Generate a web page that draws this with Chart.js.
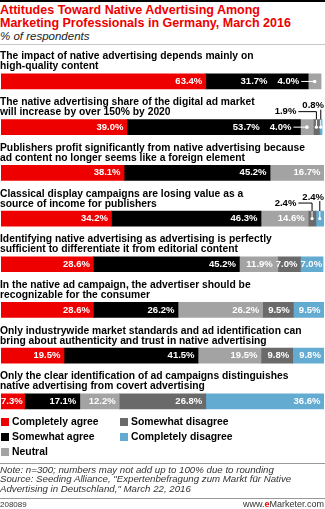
<!DOCTYPE html>
<html>
<head>
<meta charset="utf-8">
<script src="https://cdn.jsdelivr.net/npm/chart.js@4"></script>
<style>
  body { margin: 0; width: 325px; height: 509px; position: relative; background: #fff; overflow: hidden; font-family: "Liberation Sans", Arial, sans-serif; }
  .abs { position: absolute; }
  #topRule { left: 0; top: 0; width: 325px; height: 2px; background: #000; }
  #title { left: 0; top: 4px; color: #ee0000; font-weight: bold; font-size: 12.5px; line-height: 12.5px; }
  #subtitle { left: 0; top: 30px; font-style: italic; font-size: 11.5px; color: #222; }
  #subRule { left: 0; top: 44px; width: 325px; height: 1px; background: #c8c8c8; }
  #chartWrap { left: 0; top: 46px; width: 325px; height: 380px; }
  .legendItem { position: absolute; font-weight: bold; font-size: 10.4px; color: #000; white-space: nowrap; }
  .legendItem span.sw { position: absolute; left: 0; top: 2px; width: 8px; height: 8px; }
  .legendItem span.tx { position: absolute; left: 11px; top: 0; line-height: 12px; }
  #noteRule { left: 0; top: 463px; width: 325px; height: 1px; background: #999; }
  #notes { left: 0; top: 465px; font-style: italic; font-size: 9.7px; line-height: 9.4px; color: #333; }
  #footRule { left: 0; top: 498px; width: 325px; height: 1px; background: #999; }
  #chartId { left: 0; top: 500px; font-size: 8px; color: #333; }
  #site { right: 1px; top: 499px; font-size: 9px; color: #333; }
  #site b { color: #ee0000; }
</style>
</head>
<body>
<div id="topRule" class="abs"></div>
<div id="title" class="abs">Attitudes Toward Native Advertising Among<br>Marketing Professionals in Germany, March 2016</div>
<div id="subtitle" class="abs">% of respondents</div>
<div id="subRule" class="abs"></div>
<div id="chartWrap" class="abs"><canvas id="attitudesChart" width="325" height="380"></canvas></div>
<div id="legend"></div>
<div id="noteRule" class="abs"></div>
<div id="notes" class="abs">Note: n=300; numbers may not add up to 100% due to rounding<br>Source: Seeding Alliance, "Expertenbefragung zum Markt für Native<br>Advertising in Deutschland," March 22, 2016</div>
<div id="footRule" class="abs"></div>
<div id="chartId" class="abs">208089</div>
<div id="site" class="abs">www.<b>e</b>Marketer.com</div>
<script>
const categories = [
  ['The impact of native advertising depends mainly on', 'high-quality content'],
  ['The native advertising share of the digital ad market', 'will increase by over 150% by 2020'],
  ['Publishers profit significantly from native advertising because', 'ad content no longer seems like a foreign element'],
  ['Classical display campaigns are losing value as a', 'source of income for publishers'],
  ['Identifying native advertising as advertising is perfectly', 'sufficient to differentiate it from editorial content'],
  ['In the native ad campaign, the advertiser should be', 'recognizable for the consumer'],
  ['Only industrywide market standards and ad identification can', 'bring about authenticity and trust in native advertising'],
  ['Only the clear identification of ad campaigns distinguishes', 'native advertising from covert advertising']
];

const completelyAgree    = [63.4, 39.0, 38.1, 34.2, 28.6, 28.6, 19.5, 7.3];
const somewhatAgree      = [31.7, 53.7, 45.2, 46.3, 45.2, 26.2, 41.5, 17.1];
const neutral            = [4.0, 4.0, 16.7, 14.6, 11.9, 26.2, 19.5, 12.2];
const somewhatDisagree   = [null, 1.9, null, 2.4, 7.0, 9.5, 9.8, 26.8];
const completelyDisagree = [null, 0.8, null, 2.4, 7.0, 9.5, 9.8, 36.6];

const seriesNames  = ['Completely agree', 'Somewhat agree', 'Neutral', 'Somewhat disagree', 'Completely disagree'];
const seriesColors = ['#ee0000', '#000000', '#a3a3a3', '#6a6a6a', '#63abd1'];
const seriesData   = [completelyAgree, somewhatAgree, neutral, somewhatDisagree, completelyDisagree];

const valueFont = 'bold 9.5px "Liberation Sans", Arial, sans-serif';
const labelFont = 'bold 10.3px "Liberation Sans", Arial, sans-serif';

// question text above each bar
const questionLabels = {
  id: 'questionLabels',
  afterDatasetsDraw(chart) {
    const ctx = chart.ctx;
    const yScale = chart.scales.y;
    const half = chart.getDatasetMeta(0).data[0].height / 2;
    ctx.save();
    ctx.font = labelFont;
    ctx.fillStyle = '#000';
    ctx.textAlign = 'left';
    ctx.textBaseline = 'alphabetic';
    categories.forEach((lines, i) => {
      const top = yScale.getPixelForValue(i) - half;
      lines.forEach((line, k) => {
        ctx.fillText(line, 0, top - 4.5 - (lines.length - 1 - k) * 10);
      });
    });
    ctx.restore();
  }
};

// percentage labels on the segments, with leaders for the narrow ones
const segmentLabels = {
  id: 'segmentLabels',
  afterDatasetsDraw(chart) {
    const ctx = chart.ctx;
    ctx.save();
    ctx.font = valueFont;
    ctx.textBaseline = 'middle';

    categories.forEach((_, i) => {
      const segs = [];
      chart.data.datasets.forEach((ds, d) => {
        const v = ds.data[i];
        if (v === null || v === undefined) return;
        const el = chart.getDatasetMeta(d).data[i];
        segs.push({ v, left: el.base, right: el.x, y: el.y, h: el.height });
      });

      let cursor = chart.chartArea.right + 10;
      let outerRight = chart.width - 1;
      let outerCount = 0;

      for (let s = segs.length - 1; s >= 0; s--) {
        const seg = segs[s];
        const text = seg.v.toFixed(1) + '%';
        const tw = ctx.measureText(text).width;
        const w = seg.right - seg.left;
        const mid = (seg.left + seg.right) / 2;
        const top = seg.y - seg.h / 2;

        if (w < 9) {
          // label above the bar, elbow leader down into the segment
          ctx.fillStyle = '#000';
          ctx.strokeStyle = '#000';
          ctx.lineWidth = 1;
          ctx.textAlign = 'right';
          let baseY;
          if (outerCount === 0) {
            baseY = top - 14;
            ctx.fillText(text, outerRight, baseY);
            ctx.beginPath();
            ctx.moveTo(mid, baseY + 4);
            ctx.lineTo(mid, top);
            ctx.stroke();
          } else {
            baseY = top - 8;
            ctx.fillText(text, outerRight, baseY);
            ctx.beginPath();
            ctx.moveTo(outerRight + 2, baseY);
            ctx.lineTo(mid, baseY);
            ctx.lineTo(mid, top);
            ctx.stroke();
          }
          ctx.strokeStyle = '#fff';
          ctx.beginPath();
          ctx.moveTo(mid, top);
          ctx.lineTo(mid, seg.y);
          ctx.stroke();
          ctx.fillStyle = '#fff';
          ctx.beginPath();
          ctx.arc(mid, seg.y, 1.6, 0, Math.PI * 2);
          ctx.fill();
          outerRight = outerRight - tw - 6;
          outerCount++;
        } else if (w < tw - 2) {
          // label sits in the previous segment with a short leader
          const right = Math.min(seg.left - 9, cursor);
          ctx.fillStyle = '#fff';
          ctx.textAlign = 'right';
          ctx.fillText(text, right, seg.y);
          ctx.strokeStyle = '#fff';
          ctx.lineWidth = 1;
          ctx.beginPath();
          ctx.moveTo(right + 2, seg.y);
          ctx.lineTo(mid, seg.y);
          ctx.stroke();
          ctx.beginPath();
          ctx.arc(mid, seg.y, 1.8, 0, Math.PI * 2);
          ctx.fill();
          cursor = right - tw - 10;
        } else {
          const pad = Math.max(0, Math.min(3.5, w - tw));
          const right = Math.min(seg.right - pad, cursor);
          ctx.fillStyle = '#fff';
          ctx.textAlign = 'right';
          ctx.fillText(text, right, seg.y);
          cursor = right - tw - 3;
        }
      }
    });
    ctx.restore();
  }
};

const datasets = seriesNames.map((name, d) => ({
  label: name,
  data: seriesData[d],
  backgroundColor: seriesColors[d],
  borderWidth: 0,
  barThickness: 15
}));

new Chart(document.getElementById('attitudesChart'), {
  type: 'bar',
  data: { labels: categories, datasets: datasets },
  options: {
    indexAxis: 'y',
    responsive: false,
    devicePixelRatio: 1,
    animation: false,
    layout: { padding: { left: 1, right: 1, top: 12.6, bottom: 1.8 } },
    scales: {
      x: { stacked: true, min: 0, max: 100, display: false },
      y: { stacked: true, display: false }
    },
    plugins: {
      legend: { display: false },
      tooltip: { enabled: false }
    }
  },
  plugins: [questionLabels, segmentLabels]
});

// legend in two columns under the chart
const legendElem = document.getElementById('legend');
const legendSpots = [[1, 416], [1, 431], [1, 446], [120, 416], [120, 431]];
seriesNames.forEach((name, d) => {
  const item = document.createElement('div');
  item.className = 'legendItem';
  item.style.left = legendSpots[d][0] + 'px';
  item.style.top = legendSpots[d][1] + 'px';

  const sw = document.createElement('span');
  sw.className = 'sw';
  sw.style.background = seriesColors[d];

  const tx = document.createElement('span');
  tx.className = 'tx';
  tx.textContent = name;

  item.appendChild(sw);
  item.appendChild(tx);
  legendElem.appendChild(item);
});
</script>
</body>
</html>
